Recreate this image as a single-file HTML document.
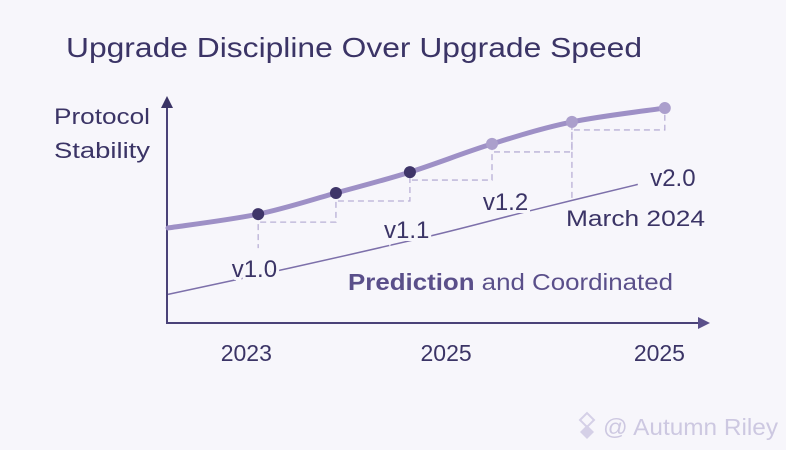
<!DOCTYPE html>
<html><head><meta charset="utf-8"><style>
html,body{margin:0;padding:0;background:#f7f6fb;}
svg{display:block;font-family:"Liberation Sans","DejaVu Sans",sans-serif;}
</style></head><body>
<svg id="chart" width="786" height="450" viewBox="0 0 786 450">
<rect width="786" height="450" fill="#f7f6fb"/>
<text x="66" y="57" font-size="28" fill="#3b3466" textLength="576" lengthAdjust="spacingAndGlyphs">Upgrade Discipline Over Upgrade Speed</text>
<text x="54" y="124" font-size="22" fill="#3b3466" textLength="96" lengthAdjust="spacingAndGlyphs">Protocol</text>
<text x="54" y="158" font-size="22" fill="#3b3466" textLength="96" lengthAdjust="spacingAndGlyphs">Stability</text>
<g id="axes">
<line x1="167" y1="104" x2="167" y2="324" stroke="#4a4278" stroke-width="2"/>
<polygon points="161,108 167,96 173,108" fill="#3b3466"/>
<line x1="167" y1="323" x2="702" y2="323" stroke="#4a4278" stroke-width="2"/>
<polygon points="698,317 710,323 698,329" fill="#5a4f8a"/>
</g>
<g id="dashes"></g>
<g id="trend"></g>
<g id="curve"></g>
<g id="points"></g>
<g id="labels"></g>
<g id="ticks"></g>
<text x="348" y="290" font-size="23" fill="#5a4f8a" textLength="325" lengthAdjust="spacingAndGlyphs"><tspan font-weight="bold">Prediction</tspan> and Coordinated</text>
<text x="566" y="226" font-size="22" fill="#3b3466" textLength="139" lengthAdjust="spacingAndGlyphs">March 2024</text>
<g opacity="0.5">
<polygon points="580,420 587,413 594,420 587,427" fill="none" stroke="#b4acd4" stroke-width="2"/>
<polygon points="580,432 587,425 594,432 587,439" fill="#b4acd4"/>
<text x="603" y="435" font-size="23" fill="#a49cc8" textLength="175" lengthAdjust="spacingAndGlyphs">@ Autumn Riley</text>
</g>
</svg>
<script>
const xVals = [0, 16.7, 31.1, 44.8, 60, 74.8, 92];
const yVals = [43.2, 49.5, 59.1, 68.6, 81.4, 91.4, 97.7];
const pointDark = [false, true, true, true, false, false, false];
const versionLabels = ["v1.0", "v1.1", "v1.2", "v2.0"];
const versionX = [16, 44.2, 62.5, 93.5];
const versionY = [21, 38.6, 51.4, 62.3];
const trendX = [0, 22.6, 48.5, 67, 87];
const trendY = [13, 25, 39.5, 51, 63];
const tickLabels = ["2023", "2025", "2025"];
const tickX = [14.5, 51.5, 91];

const NS = "http://www.w3.org/2000/svg";
function sx(v){ return 168 + v * 5.4; }
function sy(v){ return 323 - v * 2.2; }
function mk(tag, attrs, parent){
  const e = document.createElementNS(NS, tag);
  for (const k in attrs) e.setAttribute(k, attrs[k]);
  document.getElementById(parent).appendChild(e);
  return e;
}
function smooth(xs, ys){
  const P = xs.map((x,i)=>[sx(x), sy(ys[i])]);
  let d = "M" + P[0][0] + "," + P[0][1];
  for (let i = 0; i < P.length - 1; i++){
    const p0 = P[i-1] || P[i], p1 = P[i], p2 = P[i+1], p3 = P[i+2] || p2;
    const c1 = [p1[0] + (p2[0]-p0[0])/6, p1[1] + (p2[1]-p0[1])/6];
    const c2 = [p2[0] - (p3[0]-p1[0])/6, p2[1] - (p3[1]-p1[1])/6];
    d += " C" + c1 + " " + c2 + " " + p2;
  }
  return d;
}
let tl = mk("path", {d: smooth(trendX, trendY), fill: "none", stroke: "#7d70aa", "stroke-width": 1.5}, "trend");


for (let i = 1; i < xVals.length - 1; i++){
  const x1 = sx(xVals[i]), x2 = sx(xVals[i+1]);
  const yh = sy(yVals[i]) + 8;
  const d = "M" + x1 + "," + sy(yVals[i]) + " L" + x1 + "," + yh + " L" + x2 + "," + yh + " L" + x2 + "," + sy(yVals[i+1]);
  const s = mk("path", {d: d, fill: "none", stroke: "#b9b0d6", "stroke-width": 1.3, "stroke-dasharray": "6,4"}, "dashes");
  
  
}
let v0 = mk("line", {x1: sx(xVals[1]), y1: sy(yVals[1]), x2: sx(xVals[1]), y2: sy(yVals[1]) + 34, stroke: "#b9b0d6", "stroke-width": 1.3, "stroke-dasharray": "6,4"}, "dashes");


let v5 = mk("line", {x1: sx(xVals[5]), y1: sy(yVals[5]), x2: sx(xVals[5]), y2: sy(yVals[5]) + 76, stroke: "#b9b0d6", "stroke-width": 1.3, "stroke-dasharray": "6,4"}, "dashes");


let c = mk("path", {d: smooth(xVals, yVals), fill: "none", stroke: "#9e90c6", "stroke-width": 5, "stroke-linecap": "round"}, "curve");


for (let i = 1; i < xVals.length; i++){
  const p = mk("circle", {cx: sx(xVals[i]), cy: sy(yVals[i]), r: 6, fill: pointDark[i] ? "#3f3569" : "#ab9fcc"}, "points");
  
  
}
for (let i = 0; i < versionLabels.length; i++){
  const t = mk("text", {x: sx(versionX[i]), y: sy(versionY[i]), "font-size": 24, fill: "#3b3466", "text-anchor": "middle", stroke: "#f7f6fb", "stroke-width": 6, "paint-order": "stroke"}, "labels");
  t.textContent = versionLabels[i];
  
  
}
for (let i = 0; i < tickLabels.length; i++){
  const t = mk("text", {x: sx(tickX[i]), y: 361, "font-size": 23, fill: "#3b3466", "text-anchor": "middle"}, "ticks");
  t.textContent = tickLabels[i];
  
  
}
</script>
</body></html>
